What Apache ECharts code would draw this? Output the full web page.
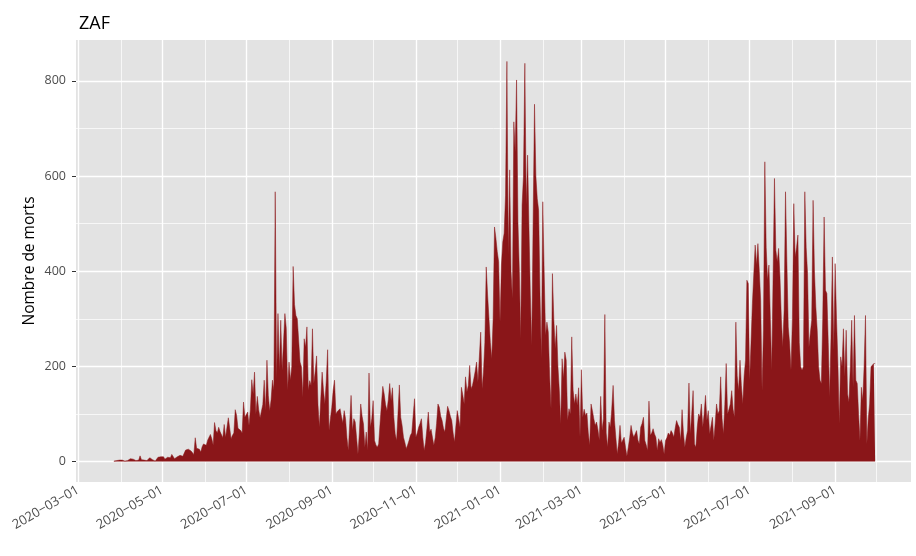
<!DOCTYPE html>
<html><head><meta charset="utf-8">
<script src="https://cdn.jsdelivr.net/npm/echarts@6/dist/echarts.min.js"></script>
<style>html,body{margin:0;padding:0;background:#fff}#c{width:916px;height:556px}</style>
</head><body><div id="c"></div>
<script>
// Daily deaths, South Africa (ZAF), first value on 2020-03-27
const firstDay = '2020-03-27';
const v2020_03 = [1,1,2,1,3];
const v2020_04 = [2,3,2,1,0,2,4,6,5,5,2,2,1,3,12,4,2,3,1,2,6,8,7,4,2,1,5,9,11,10];
const v2020_05 = [8,10,5,7,9,11,8,15,12,6,8,10,12,13,16,11,9,24,27,26,28,22,25,15,50,28,30,26,20,31,37];
const v2020_06 = [40,34,45,44,57,48,35,82,65,60,72,63,65,50,78,51,55,92,88,48,55,60,109,97,70,71,65,60,125,93];
const v2020_07 = [95,104,76,110,172,142,188,100,137,109,92,95,120,171,107,213,139,107,130,171,150,567,171,311,192,297,192,250,311,280,150];
const v2020_08 = [209,171,200,410,330,307,300,302,209,199,135,258,240,283,150,170,160,279,164,190,222,120,72,130,188,150,121,170,235,65,90];
const v2020_09 = [114,150,171,100,105,109,111,95,81,107,90,50,23,80,139,65,90,83,50,16,60,121,95,79,30,62,23,186,72,90];
const v2020_10 = [128,44,35,30,37,80,120,158,142,120,107,130,164,128,155,93,58,44,100,161,93,76,51,40,27,35,44,55,60,64,132];
const v2020_11 = [51,60,72,80,90,51,23,40,70,104,62,68,72,34,50,80,121,114,95,86,70,62,90,116,107,95,86,60,41,75];
const v2020_12 = [107,90,72,156,140,121,178,146,160,202,153,160,174,190,209,167,220,272,153,188,250,409,350,300,250,216,300,493,470,441,420];
const v2021_01 = [293,413,462,480,560,841,434,613,399,342,714,650,802,504,400,258,539,600,837,539,644,490,350,244,504,751,600,553,528,350,216];
const v2021_02 = [546,400,265,293,272,180,111,395,300,237,286,200,150,79,216,174,230,213,86,111,100,262,150,121,142,118,155,51];
const v2021_03 = [193,93,110,97,102,60,34,121,107,90,76,83,67,45,137,65,90,309,60,30,83,72,110,160,86,50,16,40,76,39,45];
const v2021_04 = [51,30,11,30,50,76,60,51,58,65,45,37,72,80,93,44,35,23,127,55,60,69,58,51,23,48,40,46,35,16];
const v2021_05 = [44,50,60,55,65,60,51,70,86,78,72,44,109,60,30,50,65,165,58,100,149,37,30,72,100,93,121,72,100,139,86];
const v2021_06 = [107,58,75,93,44,80,121,100,107,178,90,58,120,206,100,110,121,149,110,93,293,180,149,213,160,121,180,213,381,374];
const v2021_07 = [171,250,332,328,455,413,458,400,339,149,276,630,450,381,413,300,192,388,595,444,420,448,388,300,241,318,567,420,283,248,192];
const v2021_08 = [300,542,430,450,476,250,199,192,199,567,450,395,241,270,297,549,400,325,276,200,171,164,300,514,360,353,250,135,262,430,234];
const v2021_09 = [416,300,206,79,220,200,279,178,276,142,125,200,297,156,307,171,164,100,44,156,128,200,307,37,90,121,199,200,206,206];

const xTickDates = ['2020-03-01','2020-05-01','2020-07-01','2020-09-01','2020-11-01','2021-01-01','2021-03-01','2021-05-01','2021-07-01','2021-09-01'];
const xMinorDates = ['2020-04-01','2020-06-01','2020-08-01','2020-10-01','2020-12-01','2021-02-01','2021-04-01','2021-06-01','2021-08-01','2021-10-01'];
const yTicks = [0,200,400,600,800];
const yMinor = [100,300,500,700];
const xRange = ['2020-02-28T13:00:00Z','2021-10-26T00:00:00Z'];
const yRange = [-43, 886];

const DAY = 86400000;
const ts = s => Date.parse(s.length > 10 ? s : s + 'T00:00:00Z');
const values = [].concat(v2020_03,v2020_04,v2020_05,v2020_06,v2020_07,v2020_08,v2020_09,v2020_10,v2020_11,v2020_12,
  v2021_01,v2021_02,v2021_03,v2021_04,v2021_05,v2021_06,v2021_07,v2021_08,v2021_09);
const t0 = ts(firstDay);
const seriesData = values.map((v,i)=>[t0 + i*DAY, v]);
const xTicks = xTickDates.map(ts);
const xMinor = xMinorDates.map(ts);
const pad = n => (n<10?'0':'') + n;
const fmt = t => { const d = new Date(t); return d.getUTCFullYear() + '\u2212' + pad(d.getUTCMonth()+1) + '\u2212' + pad(d.getUTCDate()); };

const gridLines = [];
xMinor.forEach(t=>gridLines.push({xAxis:t, lineStyle:{color:'#ffffff', width:0.7, type:'solid'}}));
yMinor.forEach(v=>gridLines.push({yAxis:v, lineStyle:{color:'#ffffff', width:0.7, type:'solid'}}));
xTicks.forEach(t=>gridLines.push({xAxis:t, lineStyle:{color:'#ffffff', width:1.4, type:'solid'}}));
yTicks.forEach(v=>gridLines.push({yAxis:v, lineStyle:{color:'#ffffff', width:1.4, type:'solid'}}));

const FONT = 'Open Sans';
const chart = echarts.init(document.getElementById('c'), null, {renderer:'canvas'});
chart.setOption({
  animation:false,
  backgroundColor:'#ffffff',
  title:{text:'ZAF', left:74, top:10, textStyle:{fontFamily:FONT, fontSize:18, fontWeight:'normal', color:'#000'}},
  grid:{left:76, right:5, top:40, bottom:74, show:true, backgroundColor:'#e3e3e3', borderWidth:0, containLabel:false},
  xAxis:{
    type:'value', min:ts(xRange[0]), max:ts(xRange[1]), scale:true,
    axisLine:{show:false},
    splitLine:{show:false},
    axisTick:{show:true, customValues:xTicks, length:4, lineStyle:{color:'#333', width:1}},
    axisLabel:{show:true, customValues:xTicks, rotate:30, margin:7, formatter:v=>fmt(v), color:'#4d4d4d', fontFamily:FONT, fontSize:13, hideOverlap:false, showMinLabel:true, showMaxLabel:true}
  },
  yAxis:{
    type:'value', min:yRange[0], max:yRange[1],
    name:'Nombre de morts', nameLocation:'middle', nameRotate:90, nameGap:38, nameMoveOverlap:false,
    nameTextStyle:{fontFamily:FONT, fontSize:15.5, color:'#000'},
    axisLine:{show:false},
    splitLine:{show:false},
    axisTick:{show:true, customValues:yTicks, length:4, lineStyle:{color:'#333', width:1}},
    axisLabel:{show:true, customValues:yTicks, margin:10, color:'#4d4d4d', fontFamily:FONT, fontSize:12.5}
  },
  series:[
    {type:'line', data:[[t0,0]], symbol:'none', lineStyle:{opacity:0}, silent:true, z:1,
     markLine:{silent:true, z:1, symbol:['none','none'], label:{show:false}, emphasis:{disabled:true}, animation:false, data:gridLines}},
    {type:'line', data:seriesData, symbol:'none', showSymbol:false, sampling:null, z:3,
     lineStyle:{width:0.5, color:'#8a1619'}, areaStyle:{color:'#8a1619', opacity:1, origin:0}}
  ]
});
</script>
</body></html>
